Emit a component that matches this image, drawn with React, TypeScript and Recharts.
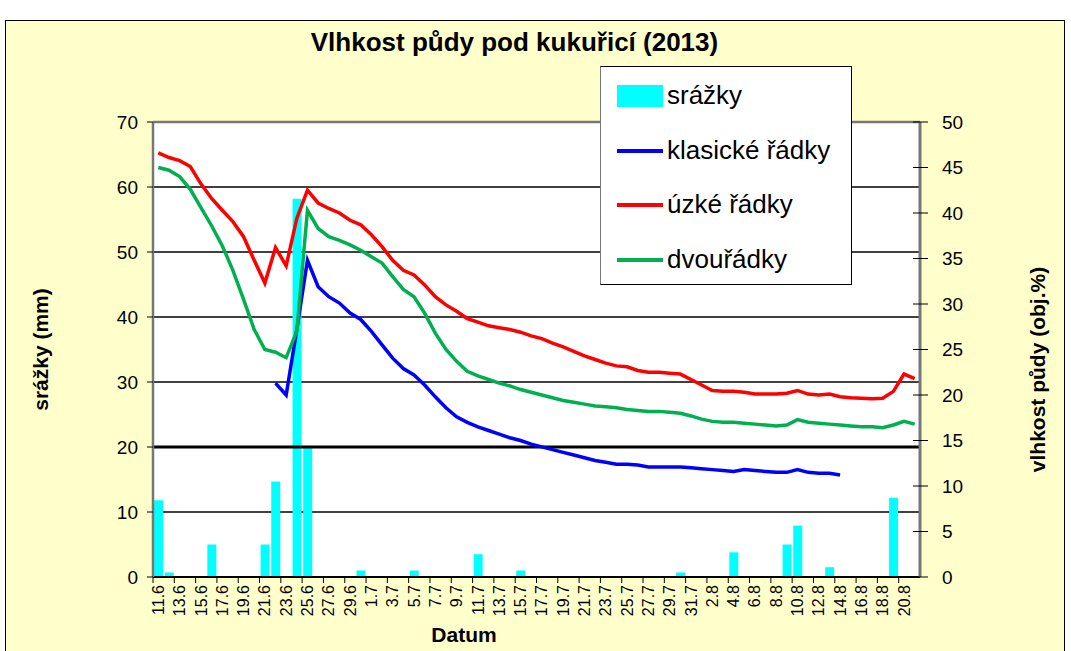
import React from "react";
import {
  ComposedChart,
  Bar,
  Line,
  XAxis,
  YAxis,
  CartesianGrid,
  ReferenceLine,
  Legend,
} from "recharts";

// days 11.6 – 21.8 (2013)
const DATES = [
  "11.6", "12.6", "13.6", "14.6", "15.6", "16.6", "17.6", "18.6", "19.6", "20.6",
  "21.6", "22.6", "23.6", "24.6", "25.6", "26.6", "27.6", "28.6", "29.6", "30.6",
  "1.7", "2.7", "3.7", "4.7", "5.7", "6.7", "7.7", "8.7", "9.7", "10.7",
  "11.7", "12.7", "13.7", "14.7", "15.7", "16.7", "17.7", "18.7", "19.7", "20.7",
  "21.7", "22.7", "23.7", "24.7", "25.7", "26.7", "27.7", "28.7", "29.7", "30.7",
  "31.7", "1.8", "2.8", "3.8", "4.8", "5.8", "6.8", "7.8", "8.8", "9.8",
  "10.8", "11.8", "12.8", "13.8", "14.8", "15.8", "16.8", "17.8", "18.8", "19.8",
  "20.8", "21.8",
];

// precipitation, mm (left axis)
const SRAZKY = [
  11.8, 0.7, 0, 0, 0, 5.0, 0, 0, 0, 0,
  5.0, 14.7, 0, 58.2, 20.0, 0, 0, 0, 0, 1.0,
  0, 0, 0, 0, 1.0, 0, 0, 0, 0, 0,
  3.5, 0, 0, 0, 1.0, 0, 0, 0, 0, 0,
  0, 0, 0, 0, 0, 0, 0, 0, 0, 0.7,
  0, 0, 0, 0, 3.8, 0, 0, 0, 0, 5.0,
  7.9, 0, 0, 1.5, 0, 0, 0, 0, 0, 12.2,
  0, 0,
];

// soil moisture, vol. % (right axis)
const KLASICKE = [
  null, null, null, null, null, null, null, null, null, null,
  null, 21.3, 20.0, 27.2, 34.8, 31.9, 30.8, 30.1, 29.0, 28.3,
  27.0, 25.5, 24.05, 22.9, 22.2, 21.1, 19.8, 18.6, 17.6, 17.0,
  16.5, 16.1, 15.7, 15.3, 15.0, 14.6, 14.3, 14.0, 13.7, 13.4,
  13.1, 12.8, 12.6, 12.4, 12.4, 12.3, 12.1, 12.1, 12.1, 12.1,
  12.0, 11.9, 11.8, 11.7, 11.6, 11.8, 11.7, 11.6, 11.5, 11.5,
  11.8, 11.5, 11.4, 11.4, 11.2, null, null, null, null, null,
  null, null,
];

const UZKE = [
  46.6, 46.1, 45.75, 45.1, 43.2, 41.6, 40.3, 39.05, 37.4, 34.8,
  32.3, 36.2, 34.2, 39.4, 42.5, 41.1, 40.5, 40.0, 39.2, 38.7,
  37.6, 36.3, 34.8, 33.7, 33.2, 32.1, 30.8, 29.9, 29.2, 28.4,
  28.0, 27.6, 27.4, 27.2, 26.9, 26.5, 26.2, 25.7, 25.3, 24.8,
  24.3, 23.9, 23.5, 23.2, 23.1, 22.7, 22.5, 22.5, 22.4, 22.3,
  21.7, 21.1, 20.5, 20.4, 20.4, 20.3, 20.1, 20.1, 20.1, 20.2,
  20.5, 20.1, 20.0, 20.1, 19.8, 19.7, 19.65, 19.6, 19.65, 20.4,
  22.3, 21.8,
];

const DVOURADKY = [
  45.0, 44.7, 44.0, 42.6, 40.6, 38.6, 36.4, 33.7, 30.5, 27.2,
  25.0, 24.7, 24.1, 27.0, 40.3, 38.3, 37.4, 37.0, 36.5, 35.9,
  35.2, 34.5, 33.0, 31.6, 30.8, 29.0, 26.8, 25.0, 23.7, 22.6,
  22.1, 21.7, 21.3, 21.0, 20.6, 20.3, 20.0, 19.7, 19.4, 19.2,
  19.0, 18.8, 18.7, 18.6, 18.4, 18.3, 18.2, 18.2, 18.1, 18.0,
  17.7, 17.35, 17.1, 17.0, 17.0, 16.9, 16.8, 16.7, 16.6, 16.7,
  17.3, 17.0, 16.9, 16.8, 16.7, 16.6, 16.5, 16.5, 16.4, 16.7,
  17.1, 16.8,
];

const LEFT_TICKS = [0, 10, 20, 30, 40, 50, 60, 70];
const RIGHT_TICKS = [0, 5, 10, 15, 20, 25, 30, 35, 40, 45, 50];

const SERIES = [
  { key: "srazky", name: "srážky", color: "#00FFFF", kind: "bar" },
  { key: "klasicke", name: "klasické řádky", color: "#0000FF", kind: "line" },
  { key: "uzke", name: "úzké řádky", color: "#FF0000", kind: "line" },
  { key: "dvouradky", name: "dvouřádky", color: "#00B050", kind: "line" },
];

const data = DATES.map((date, i) => ({
  date,
  srazky: SRAZKY[i],
  klasicke: KLASICKE[i],
  uzke: UZKE[i],
  dvouradky: DVOURADKY[i],
}));

const FONT = "'Liberation Sans', Arial, sans-serif";
const W = 1071;
const H = 651;
const MARGIN = { top: 122, right: 91, bottom: 20, left: 93 };
const AXIS_W = 60;
const BAND = (W - MARGIN.left - MARGIN.right - 2 * AXIS_W) / DATES.length;

function DateTick({ x, y, payload }: any) {
  return (
    <g>
      <line x1={x - BAND / 2} x2={x - BAND / 2} y1={y - 8} y2={y - 2} stroke="#000" />
      <text
        transform={`translate(${x},${y}) rotate(-90)`}
        textAnchor="end"
        dy="0.35em"
        fontSize={16}
        fontFamily={FONT}
        fill="#000"
      >
        {payload.value}
      </text>
    </g>
  );
}

function RightTick({ x, y, payload }: any) {
  return (
    <g>
      <line x1={x - 29} x2={x - 14} y1={y} y2={y} stroke="#000" />
      <text x={x} y={y} dy="0.35em" fontSize={19} fontFamily={FONT} fill="#000">
        {payload.value}
      </text>
    </g>
  );
}

function AxisTitle({ x, y, text }: { x: number; y: number; text: string }) {
  return (
    <text
      transform={`translate(${x},${y}) rotate(-90)`}
      textAnchor="middle"
      dy="0.35em"
      fontSize={21}
      fontWeight="bold"
      fontFamily={FONT}
      fill="#000"
    >
      {text}
    </text>
  );
}

function LegendBox() {
  return (
    <div
      style={{
        position: "relative",
        width: 252,
        height: 219,
        boxSizing: "border-box",
        background: "#fff",
        border: "1px solid #000",
        borderLeft: "1px solid #777",
        fontFamily: FONT,
        fontSize: 26,
      }}
    >
      {SERIES.map((s, i) => {
        const cy = 29 + i * 54.5;
        return (
          <div key={s.key}>
            {s.kind === "bar" ? (
              <div
                style={{
                  position: "absolute",
                  left: 16,
                  top: cy - 11,
                  width: 46,
                  height: 22,
                  background: s.color,
                }}
              />
            ) : (
              <div
                style={{
                  position: "absolute",
                  left: 16,
                  top: cy - 2,
                  width: 46,
                  height: 4,
                  background: s.color,
                }}
              />
            )}
            <div
              style={{
                position: "absolute",
                left: 66,
                top: cy - 16,
                lineHeight: "30px",
                whiteSpace: "nowrap",
                color: "#000",
              }}
            >
              {s.name}
            </div>
          </div>
        );
      })}
    </div>
  );
}

export default function App() {
  return (
    <div
      style={{
        position: "absolute",
        left: 0,
        top: 0,
        width: W,
        height: H,
        background: "#fff",
        overflow: "hidden",
      }}
    >
      <div
        style={{
          position: "absolute",
          left: 5,
          top: 20,
          width: 1058,
          height: 640,
          background: "#FFFFCC",
          border: "1.5px solid #000",
        }}
      />
      <div
        style={{
          position: "absolute",
          left: 0,
          top: 27,
          width: 1029,
          textAlign: "center",
          fontFamily: FONT,
          fontWeight: "bold",
          fontSize: 26,
          lineHeight: "30px",
          color: "#000",
        }}
      >
        Vlhkost půdy pod kukuřicí (2013)
      </div>
      <div style={{ position: "absolute", left: 0, top: 0 }}>
        <ComposedChart width={W} height={H} data={data} margin={MARGIN} barCategoryGap="10%">
          <CartesianGrid
            yAxisId="left"
            vertical={false}
            stroke="#000"
            strokeWidth={1.3}
            fill="#fff"
            fillOpacity={1}
          />
          <XAxis
            dataKey="date"
            interval={1}
            height={54}
            tickSize={0}
            tickMargin={8}
            tickLine={false}
            tick={<DateTick />}
            axisLine={{ stroke: "#000", strokeWidth: 2 }}
            label={{
              content: () => (
                <text
                  x={464}
                  y={635}
                  textAnchor="middle"
                  dy="0.35em"
                  fontSize={21}
                  fontWeight="bold"
                  fontFamily={FONT}
                  fill="#000"
                >
                  Datum
                </text>
              ),
            }}
          />
          <YAxis
            yAxisId="left"
            orientation="left"
            width={AXIS_W}
            domain={[0, 70]}
            ticks={LEFT_TICKS}
            tickSize={6}
            tickMargin={9}
            tickLine={{ stroke: "#000" }}
            axisLine={{ stroke: "#777", strokeWidth: 2.5 }}
            tick={{ fill: "#000", fontSize: 19, fontFamily: FONT }}
            label={{
              content: ({ viewBox }: any) => (
                <AxisTitle
                  x={viewBox.x - 52}
                  y={viewBox.y + viewBox.height / 2}
                  text="srážky (mm)"
                />
              ),
            }}
          />
          <YAxis
            yAxisId="right"
            orientation="right"
            width={AXIS_W}
            domain={[0, 50]}
            ticks={RIGHT_TICKS}
            tickSize={0}
            tickMargin={22}
            tickLine={false}
            axisLine={{ stroke: "#777", strokeWidth: 3 }}
            tick={<RightTick />}
            label={{
              content: ({ viewBox }: any) => (
                <AxisTitle
                  x={viewBox.x + viewBox.width + 58}
                  y={viewBox.y + viewBox.height / 2 + 20}
                  text="vlhkost půdy (obj.%)"
                />
              ),
            }}
          />
          <ReferenceLine yAxisId="left" y={20} stroke="#000" strokeWidth={3} />
          <ReferenceLine yAxisId="left" y={70} stroke="#777" strokeWidth={2.5} />
          <Legend
            layout="vertical"
            align="center"
            verticalAlign="middle"
            content={() => <LegendBox />}
            wrapperStyle={{ left: 600, top: 66, width: 252, height: 219 }}
          />
          <Bar
            yAxisId="left"
            dataKey="srazky"
            name="srážky"
            fill="#00FFFF"
            isAnimationActive={false}
          />
          <Line
            yAxisId="right"
            dataKey="klasicke"
            name="klasické řádky"
            stroke="#0000FF"
            strokeWidth={3.5}
            dot={false}
            type="linear"
            isAnimationActive={false}
          />
          <Line
            yAxisId="right"
            dataKey="uzke"
            name="úzké řádky"
            stroke="#FF0000"
            strokeWidth={3.5}
            dot={false}
            type="linear"
            isAnimationActive={false}
          />
          <Line
            yAxisId="right"
            dataKey="dvouradky"
            name="dvouřádky"
            stroke="#00B050"
            strokeWidth={3.5}
            dot={false}
            type="linear"
            isAnimationActive={false}
          />
        </ComposedChart>
      </div>
    </div>
  );
}
